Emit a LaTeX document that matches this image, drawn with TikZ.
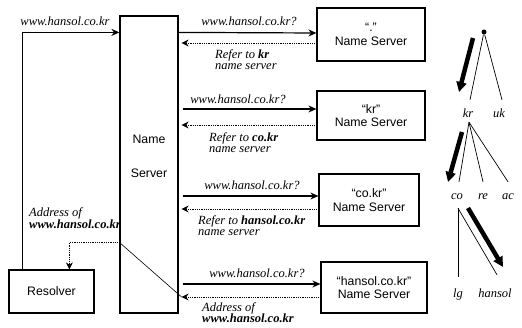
\documentclass[tikz,border=0pt]{standalone}
\usepackage{fontspec}
\setmainfont{Liberation Serif}
\setsansfont{Liberation Sans}
\usetikzlibrary{arrows.meta,calc}
\tikzset{
  srvbox/.style={draw, line width=1.2pt, font=\sffamily\fontsize{12.3}{13.5}\selectfont, align=center, inner sep=0pt},
  sftext/.style={font=\sffamily\fontsize{12.3}{13}\selectfont, inner sep=0pt},
  lab/.style={font=\itshape\fontsize{12.5}{11.5}\selectfont, inner sep=0pt, align=left},
  req/.style={line width=1.2pt, -{Stealth[length=8pt,width=7pt]}},
  rep/.style={line width=0.8pt, densely dotted, -{Stealth[length=7pt,width=7pt]}},
  tline/.style={line width=0.7pt},
  tlab/.style={font=\itshape\fontsize{12.5}{12}\selectfont, inner sep=1pt, text height=8pt, text depth=0pt},
  bigarrow/.style={line width=4.5pt, -{Triangle[length=10pt,width=10pt]}},
}
\begin{document}
\begin{tikzpicture}[x=1pt,y=-1pt]
\useasboundingbox (0,0) rectangle (522,328);
% boxes
\node[srvbox, minimum width=58pt, minimum height=297pt] (ns) at (149,164.5) {};
\node[sftext] (nsl1) at (149,139) {Name};
\node[sftext] (nsl2) at (149,173) {Server};
\node[srvbox, minimum width=85pt, minimum height=43pt] (res) at (51.5,291.5) {Resolver};
\node[srvbox, minimum width=108pt, minimum height=53pt] (s1) at (371,34.5) {“.”\\Name Server};
\node[srvbox, minimum width=108pt, minimum height=49pt] (s2) at (371,115.5) {“kr”\\Name Server};
\node[srvbox, minimum width=100pt, minimum height=52pt] (s3) at (369,200) {“co.kr”\\Name Server};
\node[srvbox, minimum width=106pt, minimum height=51pt] (s4) at (374,287.5) {“hansol.co.kr”\\Name Server};
% resolver query
\draw[req] ($(res.north west)+(14,0)$) |- ($(ns.north west)+(0,17)$);
\node[lab] (lq0) at (65,21) {www.hansol.co.kr};
% root
\draw[req] ($(ns.north east)+(0,17)$) -- ($(s1.west)+(0,-1.5)$);
\node[lab] (lq1) at (249,21) {www.hansol.co.kr?};
\draw[rep] ($(s1.west)+(0,8.5)$) -- ($(ns.east |- s1.west)+(3,8.5)$);
\node[lab, anchor=west] (lr1) at (215,59.5) {Refer to \textbf{kr}\\name server};
% kr
\draw[req] ($(ns.east |- s2.west)+(4,-6.5)$) -- ($(s2.west)+(0,-6.5)$);
\node[lab] (lq2) at (238,99) {www.hansol.co.kr?};
\draw[rep] ($(s2.west)+(0,9.5)$) -- ($(ns.east |- s2.west)+(3,9.5)$);
\node[lab, anchor=west] (lr2) at (209,142.5) {Refer to \textbf{co.kr}\\name server};
% co.kr
\draw[req] ($(ns.east |- s3.west)+(4,-4)$) -- ($(s3.west)+(0,-4)$);
\node[lab] (lq3) at (252,185) {www.hansol.co.kr?};
\draw[rep] ($(s3.west)+(0,9)$) -- ($(ns.east |- s3.west)+(3,9)$);
\node[lab, anchor=west] (lr3) at (198,225.5) {Refer to \textbf{hansol.co.kr}\\name server};
% hansol.co.kr
\draw[req] ($(ns.east |- s4.west)+(4,-3.5)$) -- ($(s4.west)+(0,-3.5)$);
\node[lab] (lq4) at (257,273) {www.hansol.co.kr?};
\draw[rep] ($(s4.west)+(0,9.5)$) -- ($(ns.east |- s4.west)+(3,9.5)$);
\draw[line width=0.6pt] ($(ns.east |- s4.west)+(3,9.5)$) -- ($(ns.north west)+(0,227)$);
\node[lab, anchor=west] (lr4) at (202,312.5) {Address of\\\textbf{www.hansol.co.kr}};
% answer to resolver
\draw[rep] ($(ns.north west)+(0,227)$) -| ($(res.north west)+(61,0)$);
\node[lab, anchor=west] (la) at (29,218) {Address of\\\textbf{www.hansol.co.kr}};
% tree
\node[circle, fill, inner sep=0pt, minimum size=5pt] (root) at (484,32) {};
\node[tlab] (kr) at (468,114) {kr};
\node[tlab] (uk) at (499,114) {uk};
\node[tlab] (co) at (457,196) {co};
\node[tlab] (re) at (483,196) {re};
\node[tlab] (ac) at (508,196) {ac};
\node[tlab] (lg) at (458,294) {lg};
\node[tlab] (hansol) at (495,294) {hansol};
\draw[tline] (root) -- ($(kr.north)+(2,-9)$);
\draw[tline] (root) -- ($(uk.north)+(3,-9)$);
\draw[tline] ($(kr.south)+(1,3)$) -- ($(co.north)+(2,-9)$);
\draw[tline] ($(kr.south)+(1,3)$) -- ($(re.north)+(0,-9)$);
\draw[tline] ($(kr.south)+(1,3)$) -- ($(ac.north)+(0,-9)$);
\draw[tline] ($(co.south)+(1,7)$) -- ($(lg.north)+(0,-12)$);
\draw[tline] ($(co.south)+(1,7)$) -- ($(hansol.north)+(2,-14)$);
\coordinate (b1s) at (473,38);
\coordinate (b1e) at (459,92);
\coordinate (b2s) at (462,132);
\coordinate (b2e) at (448,182);
\coordinate (b3s) at (468,208);
\coordinate (b3e) at (503,267);
\draw[bigarrow] (b1s) -- (b1e);
\draw[bigarrow] (b2s) -- (b2e);
\draw[bigarrow] (b3s) -- (b3e);
\end{tikzpicture}
\end{document}
